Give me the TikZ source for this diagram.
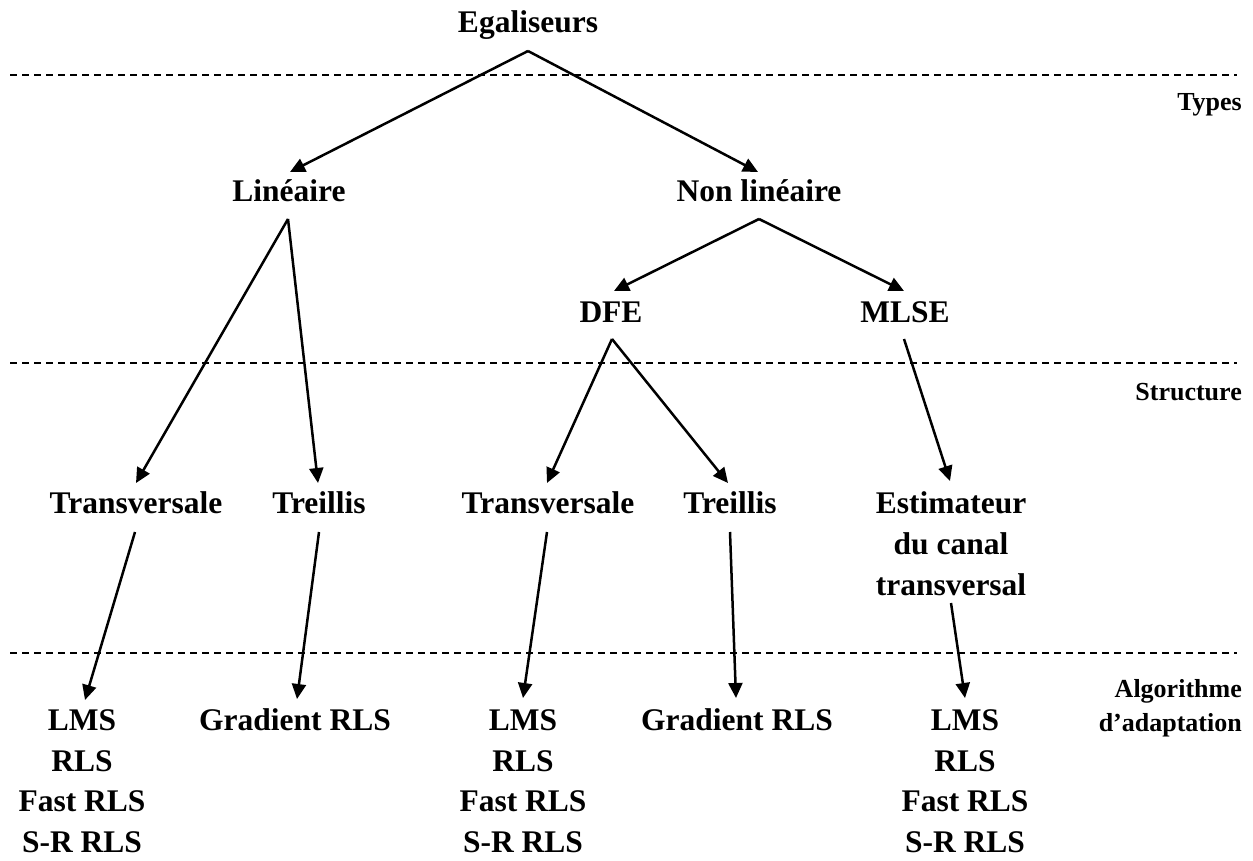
\documentclass[tikz,border=0pt]{standalone}
\usepackage{fontspec}
\setmainfont{Liberation Serif}
\usetikzlibrary{arrows.meta}
\begin{document}
\begin{tikzpicture}[x=1pt,y=-1pt,
  lbl/.style={font=\fontsize{31.5}{40.7}\selectfont\bfseries, inner sep=0pt, anchor=base},
  side/.style={font=\fontsize{26}{32}\selectfont\bfseries, inner sep=0pt, anchor=base east},
  arr/.style={line width=2.5pt, -{Triangle[length=15pt,width=14pt]}},
  sepline/.style={line width=1.3pt, dash pattern=on 7pt off 5pt}]
\useasboundingbox (0,0) rectangle (1253,861);

% level separators
\draw[sepline] (10,75) -- (1237,75);
\draw[sepline] (10,363) -- (1237,363);
\draw[sepline] (10,653) -- (1237,653);

% level names
\node[side] (ltypes) at (1242,111) {Types};
\node[side] (lstruct) at (1242,400) {Structure};
\node[side] (lalgo1) at (1242,697) {Algorithme};
\node[side] (lalgo2) at (1242,731) {d’adaptation};

% tree nodes
\node[lbl] (eg) at (528,33) {Egaliseurs};
\node[lbl] (lin) at (289,202) {Linéaire};
\node[lbl] (nlin) at (759,202) {Non linéaire};
\node[lbl] (dfe) at (611,322) {DFE};
\node[lbl] (mlse) at (905,322) {MLSE};
\node[lbl] (tr1) at (136,513) {Transversale};
\node[lbl] (te1) at (319,513) {Treillis};
\node[lbl] (tr2) at (548,513) {Transversale};
\node[lbl] (te2) at (730,513) {Treillis};
\node[lbl] (est1) at (951,513) {Estimateur};
\node[lbl] (est2) at (951,554) {du canal};
\node[lbl] (est3) at (951,595) {transversal};

% adaptation algorithms
\node[lbl] (a1) at (82,730) {LMS};
\node[lbl] (b1) at (82,771) {RLS};
\node[lbl] (c1) at (82,811) {Fast RLS};
\node[lbl] (d1) at (82,852) {S-R RLS};
\node[lbl] (gr1) at (295,730) {Gradient RLS};
\node[lbl] (a2) at (523,730) {LMS};
\node[lbl] (b2) at (523,771) {RLS};
\node[lbl] (c2) at (523,811) {Fast RLS};
\node[lbl] (d2) at (523,852) {S-R RLS};
\node[lbl] (gr2) at (737,730) {Gradient RLS};
\node[lbl] (a3) at (965,730) {LMS};
\node[lbl] (b3) at (965,771) {RLS};
\node[lbl] (c3) at (965,811) {Fast RLS};
\node[lbl] (d3) at (965,852) {S-R RLS};

% connectors
\draw[arr] ([shift={(0,18)}]eg.base) -- ([shift={(1,-30)}]lin.base);
\draw[arr] ([shift={(0,18)}]eg.base) -- ([shift={(-1,-30)}]nlin.base);
\draw[arr] ([shift={(-1,17)}]lin.base) -- ([shift={(0,-30)}]tr1.base);
\draw[arr] ([shift={(-1,17)}]lin.base) -- ([shift={(-1,-30)}]te1.base);
\draw[arr] ([shift={(0,17)}]nlin.base) -- ([shift={(3,-31)}]dfe.base);
\draw[arr] ([shift={(0,17)}]nlin.base) -- ([shift={(-1,-31)}]mlse.base);
\draw[arr] ([shift={(1,17)}]dfe.base) -- ([shift={(-1,-30)}]tr2.base);
\draw[arr] ([shift={(1,17)}]dfe.base) -- ([shift={(-2,-30)}]te2.base);
\draw[arr] ([shift={(-1,17)}]mlse.base) -- ([shift={(-1,-32)}]est1.base);
\draw[arr] ([shift={(-1,19)}]tr1.base) -- ([shift={(3,-30)}]a1.base);
\draw[arr] ([shift={(0,19)}]te1.base) -- ([shift={(2,-31)}]gr1.base);
\draw[arr] ([shift={(-1,19)}]tr2.base) -- ([shift={(0,-32)}]a2.base);
\draw[arr] ([shift={(0,19)}]te2.base) -- ([shift={(-1,-32)}]gr2.base);
\draw[arr] ([shift={(0,8)}]est3.base) -- ([shift={(0,-32)}]a3.base);
\end{tikzpicture}
\end{document}
